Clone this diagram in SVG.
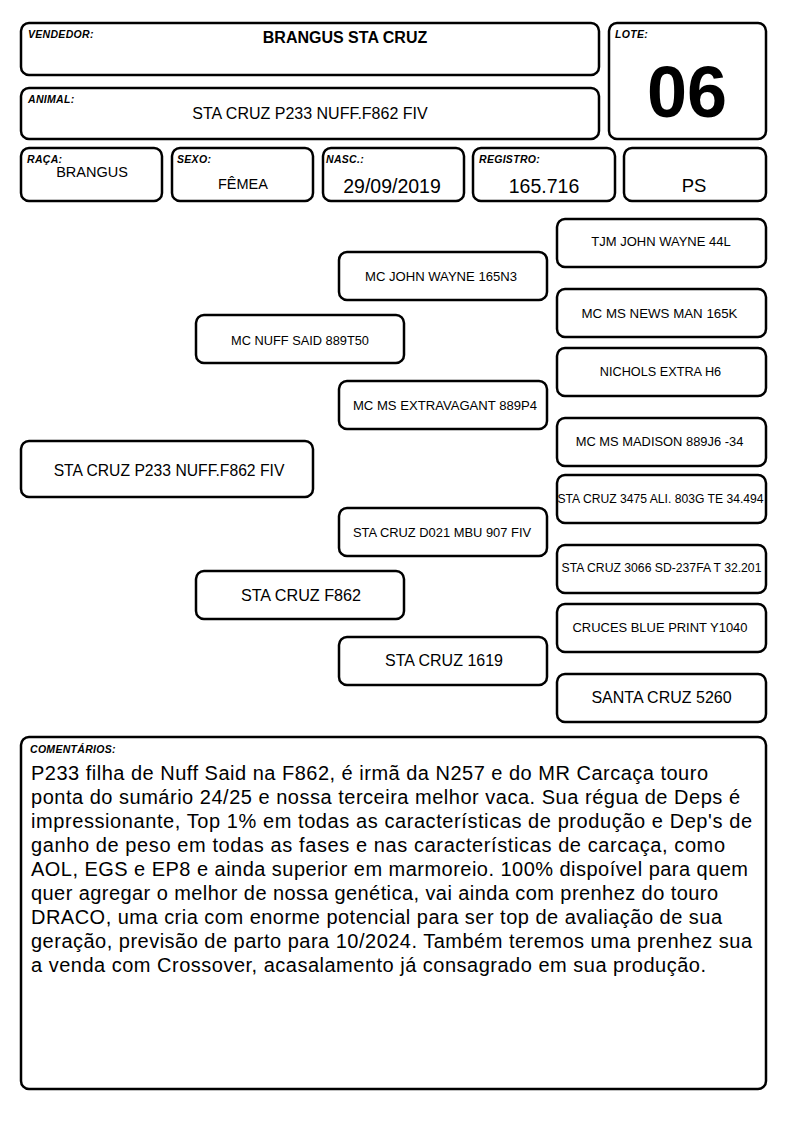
<svg xmlns="http://www.w3.org/2000/svg" width="794" height="1123" viewBox="0 0 794 1123">
<style>
.b{fill:#fff;stroke:#000;stroke-width:2.5}
.lb{font-family:"Liberation Sans",Arial,sans-serif;font-weight:bold;font-style:italic;font-size:10.5px;letter-spacing:0.3px;fill:#000}
.t{font-family:"Liberation Sans",Arial,sans-serif;fill:#000;text-anchor:middle}
.c{font-family:"Liberation Sans",Arial,sans-serif;fill:#000;font-size:20px}
</style>
<rect width="794" height="1123" fill="#fff"/>
<g id="vendedor"><rect class="b" x="21" y="23" width="578" height="52" rx="8"/><text class="lb" x="28" y="38">VENDEDOR:</text><text class="t" x="345" y="43" font-size="16" font-weight="bold">BRANGUS STA CRUZ</text></g>
<g id="animal"><rect class="b" x="21" y="88" width="578" height="51" rx="8"/><text class="lb" x="28" y="103">ANIMAL:</text><text class="t" x="310" y="119" font-size="16">STA CRUZ P233 NUFF.F862 FIV</text></g>
<g id="lote"><rect class="b" x="609" y="23" width="157" height="116" rx="8"/><text class="lb" x="615" y="38">LOTE:</text><text class="t" x="687" y="117" font-size="72" font-weight="bold">06</text></g>
<g id="raca"><rect class="b" x="21" y="148" width="141" height="53" rx="8"/><text class="lb" x="27" y="163">RAÇA:</text><text class="t" x="92" y="177" font-size="14.5">BRANGUS</text></g>
<g id="sexo"><rect class="b" x="172" y="148" width="141" height="53" rx="8"/><text class="lb" x="177" y="163">SEXO:</text><text class="t" x="243" y="189" font-size="14.5">FÊMEA</text></g>
<g id="nasc"><rect class="b" x="323" y="148" width="141" height="53" rx="8"/><text class="lb" x="326" y="163">NASC.:</text><text class="t" x="392" y="193" font-size="19.5">29/09/2019</text></g>
<g id="registro"><rect class="b" x="473" y="148" width="142" height="53" rx="8"/><text class="lb" x="479" y="163">REGISTRO:</text><text class="t" x="544" y="193" font-size="19.5">165.716</text></g>
<g id="ps"><rect class="b" x="624" y="148" width="142" height="53" rx="8"/><text class="t" x="694" y="192" font-size="18.5">PS</text></g>
<g id="connectors"></g>
<g id="p0"><rect class="b" x="21" y="441" width="292" height="56" rx="8"/><text class="t" x="169" y="476" font-size="15.7">STA CRUZ P233 NUFF.F862 FIV</text></g>
<g id="p1"><rect class="b" x="196" y="315" width="208" height="48" rx="8"/><text class="t" x="300" y="345" font-size="12.8">MC NUFF SAID 889T50</text></g>
<g id="p2"><rect class="b" x="196" y="571" width="208" height="48" rx="8"/><text class="t" x="301" y="601" font-size="16.2">STA CRUZ F862</text></g>
<g id="p3"><rect class="b" x="339" y="252" width="208" height="48" rx="8"/><text class="t" x="441" y="281" font-size="13.1">MC JOHN WAYNE 165N3</text></g>
<g id="p4"><rect class="b" x="339" y="381" width="208" height="48" rx="8"/><text class="t" x="445" y="410" font-size="13.1">MC MS EXTRAVAGANT 889P4</text></g>
<g id="p5"><rect class="b" x="339" y="508" width="208" height="48" rx="8"/><text class="t" x="442" y="537" font-size="12.9">STA CRUZ D021 MBU 907 FIV</text></g>
<g id="p6"><rect class="b" x="339" y="637" width="208" height="48" rx="8"/><text class="t" x="444" y="666" font-size="16">STA CRUZ 1619</text></g>
<g id="p7"><rect class="b" x="557" y="219" width="209" height="48" rx="8"/><text class="t" x="661" y="246" font-size="13">TJM JOHN WAYNE 44L</text></g>
<g id="p8"><rect class="b" x="557" y="289" width="209" height="48" rx="8"/><text class="t" x="659.5" y="318" font-size="13.3">MC MS NEWS MAN 165K</text></g>
<g id="p9"><rect class="b" x="557" y="348" width="209" height="48" rx="8"/><text class="t" x="660.5" y="376" font-size="12.7">NICHOLS EXTRA H6</text></g>
<g id="p10"><rect class="b" x="557" y="418" width="209" height="48" rx="8"/><text class="t" x="659.5" y="446" font-size="12.9">MC MS MADISON 889J6 -34</text></g>
<g id="p11"><rect class="b" x="557" y="475" width="209" height="48" rx="8"/><text class="t" x="660.5" y="503" font-size="12.15">STA CRUZ 3475 ALI. 803G TE 34.494</text></g>
<g id="p12"><rect class="b" x="557" y="545" width="209" height="48" rx="8"/><text class="t" x="661.5" y="572" font-size="12.2">STA CRUZ 3066 SD-237FA T 32.201</text></g>
<g id="p13"><rect class="b" x="557" y="604" width="209" height="48" rx="8"/><text class="t" x="660" y="632" font-size="12.95">CRUCES BLUE PRINT Y1040</text></g>
<g id="p14"><rect class="b" x="557" y="674" width="209" height="48" rx="8"/><text class="t" x="661.5" y="703" font-size="16">SANTA CRUZ 5260</text></g>
<g id="comentarios"><rect class="b" x="21" y="737" width="745" height="352" rx="8"/><text class="lb" x="30" y="753">COMENTÁRIOS:</text>
<text class="c" x="31" y="780" textLength="677" lengthAdjust="spacing">P233 filha de Nuff Said na F862, é irmã da N257 e do MR Carcaça touro</text>
<text class="c" x="31" y="804" textLength="709" lengthAdjust="spacing">ponta do sumário 24/25 e nossa terceira melhor vaca. Sua régua de Deps é</text>
<text class="c" x="31" y="828" textLength="721" lengthAdjust="spacing">impressionante, Top 1% em todas as características de produção e Dep's de</text>
<text class="c" x="31" y="852" textLength="694" lengthAdjust="spacing">ganho de peso em todas as fases e nas características de carcaça, como</text>
<text class="c" x="31" y="876" textLength="717" lengthAdjust="spacing">AOL, EGS e EP8 e ainda superior em marmoreio. 100% dispoível para quem</text>
<text class="c" x="31" y="900" textLength="687" lengthAdjust="spacing">quer agregar o melhor de nossa genética, vai ainda com prenhez do touro</text>
<text class="c" x="31" y="924" textLength="691" lengthAdjust="spacing">DRACO, uma cria com enorme potencial para ser top de avaliação de sua</text>
<text class="c" x="31" y="948" textLength="721" lengthAdjust="spacing">geração, previsão de parto para 10/2024. Também teremos uma prenhez sua</text>
<text class="c" x="31" y="972" textLength="675" lengthAdjust="spacing">a venda com Crossover, acasalamento já consagrado em sua produção.</text>
</g>
</svg>
